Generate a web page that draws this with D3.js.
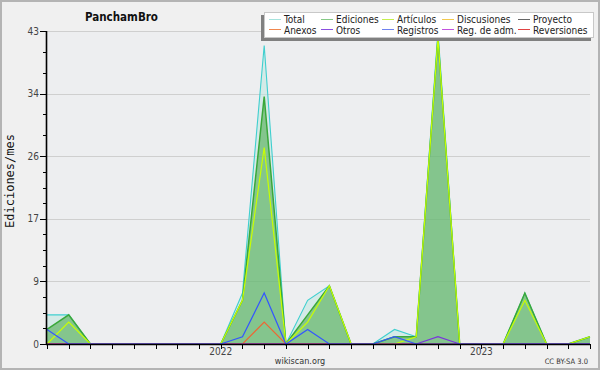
<!DOCTYPE html>
<html><head><meta charset="utf-8">
<script src="https://cdn.jsdelivr.net/npm/d3@7/dist/d3.min.js"></script>
<style>
html,body{margin:0;padding:0;background:#fff;}
svg{display:block;}
</style></head>
<body>
<svg id="chart" width="600" height="370"></svg>
<script>
// Data: monthly edits, May 2021 .. Jun 2023
const months = ["2021-05","2021-06","2021-07","2021-08","2021-09","2021-10","2021-11","2021-12",
  "2022-01","2022-02","2022-03","2022-04","2022-05","2022-06","2022-07","2022-08","2022-09","2022-10","2022-11","2022-12",
  "2023-01","2023-02","2023-03","2023-04","2023-05","2023-06"];
const total       = [4,4,0,0,0,0,0,0,0,7,41,0,6,8,0,0,2,1,43,0,0,0,7,0,0,1];
const ediciones   = [2,4,0,0,0,0,0,0,0,6,34,0,4,8,0,0,1,1,42,0,0,0,7,0,0,1];
const articulos   = [0,3,0,0,0,0,0,0,0,6,27,0,3,8,0,0,0,1,42,0,0,0,6,0,0,1];
const discusiones = [0,0,0,0,0,0,0,0,0,0,0,0,0,0,0,0,0,0,0,0,0,0,0,0,0,0];
const proyecto    = [0,0,0,0,0,0,0,0,0,0,0,0,0,0,0,0,0,0,0,0,0,0,0,0,0,0];
const anexos      = [0,0,0,0,0,0,0,0,0,0,3,0,0,0,0,0,0,0,0,0,0,0,0,0,0,0];
const otros       = [0,0,0,0,0,0,0,0,0,0,0,0,0,0,0,0,0,0,1,0,0,0,0,0,0,0];
const registros   = [2,0,0,0,0,0,0,0,0,1,7,0,2,0,0,0,1,0,0,0,0,0,0,0,0,0];
const regAdm      = [0,0,0,0,0,0,0,0,0,0,0,0,0,0,0,0,0,0,0,0,0,0,0,0,0,0];
const reversiones = [0,0,0,0,0,0,0,0,0,0,0,0,0,0,0,0,0,0,0,0,0,0,0,0,0,0];
const yTickValues = [0, 8.6, 17.2, 25.8, 34.4, 43];
const yTickLabels = ["0","9","17","26","34","43"];
const yearLabels  = [{month:"2022-01", label:"2022"},{month:"2023-01", label:"2023"}];
const legendNames = ["Total","Ediciones","Artículos","Discusiones","Proyecto","Anexos","Otros","Registros","Reg. de adm.","Reversiones"];
const legendColors = ["#a6e3dd","#86c986","#c6ef4e","#f2c94e","#666666","#f0874e","#8a4fe0","#6f82f0","#c253df","#e04343"];

const svg = d3.select("#chart");
const W = 600, H = 370;
const FONT = "'DejaVu Sans Condensed','DejaVu Sans',sans-serif";

// background & border
svg.append("rect").attr("x",0).attr("y",0).attr("width",W).attr("height",H).attr("fill","#f0f0f0");
svg.append("rect").attr("x",1).attr("y",1).attr("width",W-2).attr("height",H-2)
  .attr("fill","none").attr("stroke","#b4b4b4").attr("stroke-width",2);

const x = d3.scaleLinear().domain([0, months.length-1]).range([47, 590]);
const y = d3.scaleLinear().domain([0, 43]).range([344, 31]);

// plot background
svg.append("rect").attr("x",47).attr("y",31).attr("width",543).attr("height",313).attr("fill","#edeef0");

// gridlines
svg.append("g").selectAll("line").data(yTickValues.filter(v=>v>0)).join("line")
  .attr("x1",47).attr("x2",590).attr("y1",d=>Math.round(y(d))+0.5).attr("y2",d=>Math.round(y(d))+0.5)
  .attr("stroke","#cfcfcf").attr("stroke-width",1);

const idx = d3.range(months.length);
const area = arr => d3.area().x(i=>x(i)).y0(y(0)).y1(i=>y(arr[i]));
const line = arr => d3.line().x(i=>x(i)).y(i=>y(arr[i]));

// Total area
svg.append("path").attr("d", area(total)(idx)).attr("fill","#bfe8e0").attr("fill-opacity",0.55);
svg.append("path").attr("d", line(total)(idx)).attr("fill","none").attr("stroke","#3fcfcf").attr("stroke-width",1.1);
// Ediciones area
svg.append("path").attr("d", area(ediciones)(idx)).attr("fill","#33a033").attr("fill-opacity",0.5);
svg.append("path").attr("d", line(ediciones)(idx)).attr("fill","none").attr("stroke","#3aa83a").attr("stroke-width",1.5);

// other series lines
const lineSeries = [
  [discusiones,"#f2c94e"],[proyecto,"#555555"],[regAdm,"#c253df"],[reversiones,"#e04343"],
  [articulos,"#c8ff00"],[anexos,"#ee6633"],[otros,"#7a33dd"],[registros,"#3355ff"]
];
lineSeries.forEach(([arr,c])=>{
  svg.append("path").attr("d", line(arr)(idx)).attr("fill","none").attr("stroke",c).attr("stroke-width",1.2);
});

// axes
const axG = svg.append("g");
axG.append("line").attr("x1",46.5).attr("x2",46.5).attr("y1",31).attr("y2",345).attr("stroke","#000").attr("stroke-width",1.6);
axG.append("line").attr("x1",46).attr("x2",590).attr("y1",344.5).attr("y2",344.5).attr("stroke","#000").attr("stroke-width",1.6);
// x ticks
axG.selectAll("line.xt").data(idx).join("line").attr("class","xt")
  .attr("x1",i=>Math.round(x(i))+0.5).attr("x2",i=>Math.round(x(i))+0.5).attr("y1",344).attr("y2",349)
  .attr("stroke","#000").attr("stroke-width",1);
// y ticks major
axG.selectAll("line.yt").data(yTickValues).join("line").attr("class","yt")
  .attr("x1",40).attr("x2",47).attr("y1",d=>Math.round(y(d))+0.5).attr("y2",d=>Math.round(y(d))+0.5)
  .attr("stroke","#000").attr("stroke-width",1);
// y minor ticks
const minor = [];
const subs = [4,4,4,3,3];
for (let k=0;k<yTickValues.length-1;k++){
  const a=yTickValues[k], b=yTickValues[k+1], n=subs[k];
  for (let j=1;j<n;j++) minor.push(a+(b-a)*j/n);
}
axG.selectAll("line.ym").data(minor).join("line").attr("class","ym")
  .attr("x1",43).attr("x2",47).attr("y1",d=>Math.round(y(d))+0.5).attr("y2",d=>Math.round(y(d))+0.5)
  .attr("stroke","#000").attr("stroke-width",1);
// y labels
axG.selectAll("text.yl").data(yTickValues).join("text").attr("class","yl")
  .attr("x",39).attr("y",d=>y(d)+3.5).attr("text-anchor","end")
  .attr("font-family",FONT).attr("font-size",10).attr("fill","#444")
  .text((d,i)=>yTickLabels[i]);
// year labels
axG.selectAll("text.xl").data(yearLabels).join("text").attr("class","xl")
  .attr("x",d=>x(months.indexOf(d.month))).attr("y",355).attr("text-anchor","middle")
  .attr("font-family",FONT).attr("font-size",10).attr("fill","#444").text(d=>d.label);

// y-axis title
svg.append("text").attr("transform","translate(14,181) rotate(-90)").attr("text-anchor","middle")
  .attr("font-family","'DejaVu Sans Mono',monospace").attr("font-size",12).attr("fill","#111").text("Ediciones/mes");

// title
svg.append("text").attr("x",85).attr("y",21).attr("font-family",FONT).attr("font-weight","bold")
  .attr("font-size",11.5).attr("fill","#111").text("PanchamBro");

// footer
svg.append("text").attr("x",300).attr("y",364).attr("text-anchor","middle").attr("font-family",FONT)
  .attr("font-size",9).attr("fill","#333").text("wikiscan.org");
svg.append("text").attr("x",588).attr("y",364).attr("text-anchor","end").attr("font-family",FONT)
  .attr("font-size",7.5).attr("fill","#333").text("CC BY-SA 3.0");

// legend
const lg = svg.append("g");
lg.append("rect").attr("x",261).attr("y",15).attr("width",330).attr("height",26).attr("fill","#808080");
lg.append("rect").attr("x",264.5).attr("y",12.5).attr("width",329).attr("height",25).attr("fill","#fff").attr("stroke","#c8c8c8");
const colX = [284,336,397,457,533];
const items = lg.selectAll("g.it").data(legendNames).join("g").attr("class","it");
items.append("line")
  .attr("x1",(d,i)=>colX[i%5]-15).attr("x2",(d,i)=>colX[i%5]-3)
  .attr("y1",(d,i)=>i<5?19.5:29.5).attr("y2",(d,i)=>i<5?19.5:29.5)
  .attr("stroke",(d,i)=>legendColors[i]).attr("stroke-width",1);
items.append("text").attr("x",(d,i)=>colX[i%5]).attr("y",(d,i)=>i<5?23:33.5)
  .attr("font-family",FONT).attr("font-size",10).attr("fill","#222").text(d=>d);
</script>
</body></html>
